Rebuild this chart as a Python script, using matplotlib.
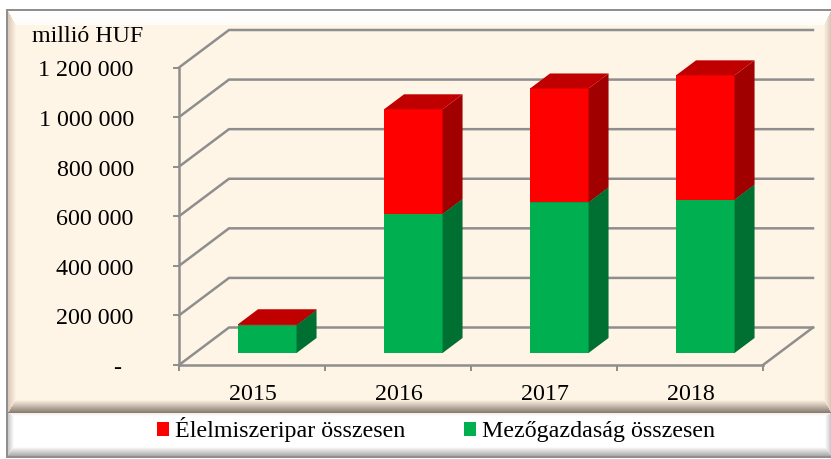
import numpy as np
import matplotlib
matplotlib.use("Agg")
import matplotlib.pyplot as plt
from matplotlib.patches import Polygon
from matplotlib.transforms import ScaledTranslation

plt.rcParams['font.family'] = ['Liberation Serif', 'DejaVu Serif']

years = ['2015', '2016', '2017', '2018']
food = [4000, 422000, 459000, 501000]
agri = [112000, 561000, 608000, 619000]
ytick_values = [0, 200000, 400000, 600000, 800000, 1000000, 1200000]
ytick_labels = ['-\u00a0\u00a0', '200 000', '400 000', '600 000', '800 000', '1 000 000', '1 200 000']
legend_labels = ['Élelmiszeripar összesen', 'Mezőgazdaság összesen']

W, H = 831, 459
fig = plt.figure(figsize=(W / 100, H / 100), dpi=100)


def panel(img, x0, x1, y0, y1, face, edges):
    """edges: side -> (width, outer colour, inner colour)."""
    yy, xx = np.mgrid[y0:y1, x0:x1]
    d = {'t': yy - y0 + .5, 'b': y1 - yy - .5, 'l': xx - x0 + .5, 'r': x1 - xx - .5}
    rel = np.stack([d[k] / edges[k][0] for k in 'tblr'])
    pick = rel.argmin(axis=0)
    out = np.empty(yy.shape + (3,))
    out[:] = face
    for i, k in enumerate('tblr'):
        m = (pick == i) & (rel[i] < 1)
        t = rel[i][m][:, None]
        w, c0, c1 = edges[k]
        out[m] = np.array(c0) * (1 - t) + np.array(c1) * t
    img[y0:y1, x0:x1] = out


def c(h):
    return np.array(matplotlib.colors.to_rgb(h))


img = np.ones((H, W, 3))
cream = c('#fff5e6')
panel(img, 8, W, 11, 413, cream, {
    't': (14, c('#ffffff'), c('#fffdf9')),
    'l': (8, c('#dcc6b6'), c('#fff3e4')),
    'r': (7, c('#d8c4b4'), c('#fff3e4')),
    'b': (13, c('#85796e'), c('#fff3e4')),
})
panel(img, 8, W, 413, 456, c('#ffffff'), {
    't': (3, c('#f0ece8'), c('#ffffff')),
    'l': (6, c('#c8c8c8'), c('#ffffff')),
    'r': (6, c('#c8c8c8'), c('#ffffff')),
    'b': (9, c('#a8a8a8'), c('#ffffff')),
})
img[9:11, 6:] = c('#8f8f8f')
img[9:457, 6:8] = c('#8f8f8f')
img[456:458, 6:] = c('#8f8f8f')
bg = fig.add_axes([0, 0, 1, 1], zorder=-1)
bg.imshow(img, interpolation='nearest', aspect='auto')
bg.axis('off')

# Front plane of the pseudo-3D box, placed in pixels
L, R, Y0, Y1 = 179, 763, 365, 67.5
ax = fig.add_axes([L / W, (H - Y0) / H, (R - L) / W, (Y0 - Y1) / H])
ax.patch.set_alpha(0)
ax.set_xlim(0, 4)
ax.set_ylim(0, 1200000)
px_x = 4 / (R - L)
px_y = 1200000 / (Y0 - Y1)

GRID = '#8e8e8e'
LW = 1.8
WALL_X, WALL_Y = 50 * px_x, 37.5 * px_y
BACK_R = 4 + WALL_X
for v in ytick_values:
    ax.plot([0, WALL_X, BACK_R], [v, v + WALL_Y, v + WALL_Y], color=GRID, lw=LW,
            clip_on=False, zorder=1, solid_joinstyle='miter')
ax.plot([4, BACK_R], [0, WALL_Y], color=GRID, lw=LW, clip_on=False, zorder=1)

# Bars
OX, OY = 15.3 * px_x, 12 * px_y    # gap between front plane and bar front
DX, DY = 20 * px_x, 15 * px_y      # bar depth
BW = 58.5 * px_x
xpos = np.arange(len(years)) + 0.5 + OX


def box(x, bottom, height, front, side, top, z):
    ax.bar(x, height, BW, bottom=bottom, color=front, linewidth=0, zorder=z)
    xl, xr = x - BW / 2, x + BW / 2
    t = bottom + height
    ax.add_patch(Polygon([(xr, bottom), (xr + DX, bottom + DY), (xr + DX, t + DY), (xr, t)],
                         closed=True, fc=side, ec='none', zorder=z, clip_on=False))
    ax.add_patch(Polygon([(xl, t), (xl + DX, t + DY), (xr + DX, t + DY), (xr, t)],
                         closed=True, fc=top, ec='none', zorder=z, clip_on=False))


for i, x in enumerate(xpos):
    box(x, OY, agri[i], '#00b050', '#007032', '#007a38', 3)
    box(x, OY + agri[i], food[i], '#ff0000', '#a00000', '#c00000', 4)

# Axes
for s in ('top', 'right'):
    ax.spines[s].set_visible(False)
for s in ('left', 'bottom'):
    ax.spines[s].set_color(GRID)
    ax.spines[s].set_linewidth(LW)
    ax.spines[s].set_zorder(5)
FS = 17.3
ax.set_yticks(ytick_values, ytick_labels, fontsize=FS, color='black')
ax.tick_params(axis='y', length=4.5, width=1.4, color=GRID, pad=28)
ax.set_xticks(np.arange(5))
ax.set_xticklabels([])
ax.set_xticks(np.arange(len(years)) + 0.5, years, minor=True, fontsize=FS)
ax.tick_params(axis='x', which='major', length=4.5, width=1.4, color=GRID)
ax.tick_params(axis='x', which='minor', length=0, pad=14)
shift_y = ScaledTranslation(0, -3.5 / 100, fig.dpi_scale_trans)
for lab in ax.get_yticklabels():
    lab.set_verticalalignment('center')
    lab.set_transform(lab.get_transform() + shift_y)
shift_x = ScaledTranslation(1 / 100, 0, fig.dpi_scale_trans)
for lab in ax.get_xticklabels(minor=True):
    lab.set_transform(lab.get_transform() + shift_x)

fig.text(32 / W, 1 - 37 / H, 'millió HUF', fontsize=FS, va='center', ha='left')

# Legend
h1 = plt.Rectangle((0, 0), 1, 1, fc='#ff0000', ec='none')
h2 = plt.Rectangle((0, 0), 1, 1, fc='#00b050', ec='none')
fig.legend([h1, h2], legend_labels, ncol=2, frameon=False, fontsize=FS,
           loc='center', bbox_to_anchor=(436 / W, 1 - 430 / H),
           handlelength=0.5, handleheight=0.5, handletextpad=0.25,
           columnspacing=2.45, borderpad=0)

fig.savefig('out.png', dpi=100)
